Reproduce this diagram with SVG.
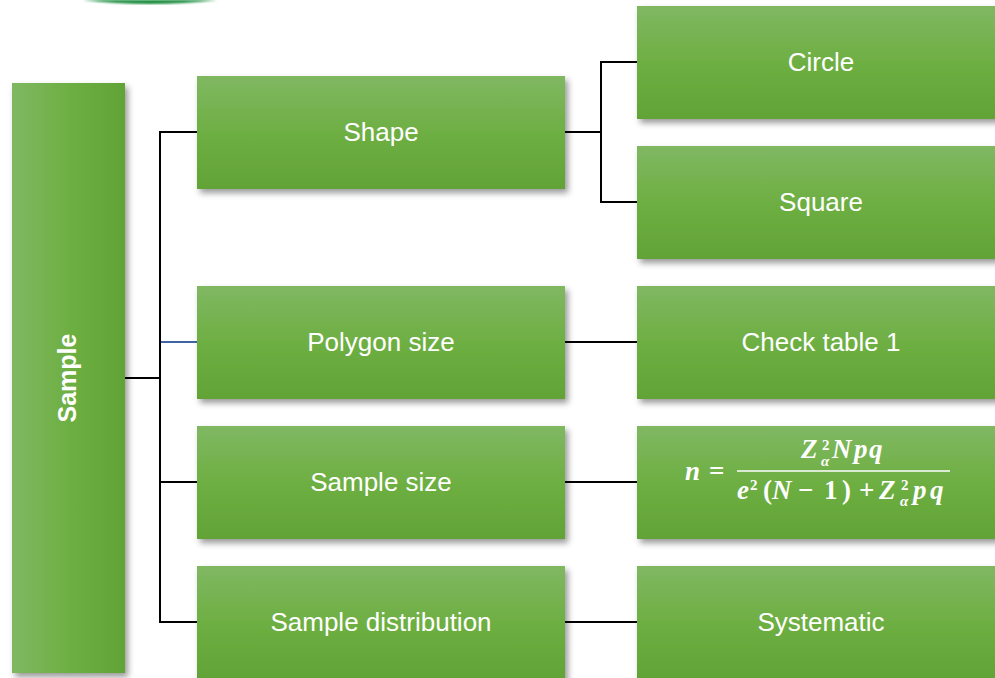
<svg xmlns="http://www.w3.org/2000/svg" width="995" height="678" viewBox="0 0 995 678">
  <defs>
    <linearGradient id="gv" x1="0" y1="0" x2="0" y2="1">
      <stop offset="0" stop-color="#80b862"/>
      <stop offset="0.5" stop-color="#6eaf43"/>
      <stop offset="1" stop-color="#62a336"/>
    </linearGradient>
    <linearGradient id="gh" x1="0" y1="0" x2="1" y2="0">
      <stop offset="0" stop-color="#80b862"/>
      <stop offset="0.5" stop-color="#6eaf43"/>
      <stop offset="1" stop-color="#62a336"/>
    </linearGradient>
    <filter id="sh" x="-10%" y="-10%" width="130%" height="130%">
      <feDropShadow dx="3" dy="4" stdDeviation="3" flood-color="#000" flood-opacity="0.4"/>
    </filter>
    <filter id="bl"><feGaussianBlur stdDeviation="1"/></filter>
  </defs>
  <style>
    .box { fill: url(#gv); filter: url(#sh); }
    .lbl { font-family: "Liberation Sans", Arial, sans-serif; font-size: 26px; fill: #fff; text-anchor: middle; }
    .con { stroke: #000; stroke-width: 2; fill: none; }
    .m { font-family: "Liberation Serif", "Times New Roman", serif; font-weight: bold; font-style: italic; font-size: 27px; fill: #fff; }
    .mu { font-family: "Liberation Serif", "Times New Roman", serif; font-weight: bold; font-size: 27px; fill: #fff; }
    .ms { font-family: "Liberation Serif", "Times New Roman", serif; font-weight: bold; font-size: 15px; fill: #fff; }
    .msi { font-family: "Liberation Serif", "Times New Roman", serif; font-weight: bold; font-style: italic; font-size: 15px; fill: #fff; }
  </style>

  <path d="M 83 0 Q 150 8 217 0 Z" fill="#168a3a" filter="url(#bl)"/>

  <g id="connectors">
    <polyline class="con" points="125,378 160,378"/>
    <polyline class="con" points="197,132 160,132 160,622 197,622"/>
    <line class="con" x1="160" y1="482" x2="197" y2="482"/>
    <line x1="161" y1="342" x2="197" y2="342" stroke="#3f64a8" stroke-width="2"/>
    <line class="con" x1="565" y1="132" x2="601" y2="132"/>
    <polyline class="con" points="637,62 601,62 601,202 637,202"/>
    <line class="con" x1="565" y1="342" x2="637" y2="342"/>
    <line class="con" x1="565" y1="482" x2="637" y2="482"/>
    <line class="con" x1="565" y1="622" x2="637" y2="622"/>
  </g>

  <g id="sample">
    <rect x="12" y="83" width="113" height="590" fill="url(#gh)" filter="url(#sh)"/>
    <text transform="translate(76,378) rotate(-90)" font-family="Liberation Sans, Arial, sans-serif" font-size="25" font-weight="bold" fill="#fff" text-anchor="middle">Sample</text>
  </g>

  <g id="shape">
    <rect class="box" x="197" y="76" width="368" height="113"/>
    <text class="lbl" x="381" y="141">Shape</text>
  </g>
  <g id="polygon-size">
    <rect class="box" x="197" y="286" width="368" height="113"/>
    <text class="lbl" x="381" y="351">Polygon size</text>
  </g>
  <g id="sample-size">
    <rect class="box" x="197" y="426" width="368" height="113"/>
    <text class="lbl" x="381" y="491">Sample size</text>
  </g>
  <g id="sample-distribution">
    <rect class="box" x="197" y="566" width="368" height="113"/>
    <text class="lbl" x="381" y="631">Sample distribution</text>
  </g>

  <g id="circle">
    <rect class="box" x="637" y="6" width="368" height="113"/>
    <text class="lbl" x="821" y="71">Circle</text>
  </g>
  <g id="square">
    <rect class="box" x="637" y="146" width="368" height="113"/>
    <text class="lbl" x="821" y="211">Square</text>
  </g>
  <g id="check-table">
    <rect class="box" x="637" y="286" width="368" height="113"/>
    <text class="lbl" x="821" y="351">Check table 1</text>
  </g>
  <g id="formula">
    <rect class="box" x="637" y="426" width="368" height="113"/>
    <text class="m" x="685" y="480">n</text>
    <text class="mu" x="709" y="480">=</text>
    <text class="m" x="801" y="458">Z</text>
    <text class="ms" x="822" y="450">2</text>
    <text class="msi" x="821" y="466">α</text>
    <text class="m" x="832" y="458">N</text>
    <text class="m" x="854" y="458">p</text>
    <text class="m" x="869" y="458">q</text>
    <line x1="737" y1="471" x2="950" y2="471" stroke="#fff" stroke-width="1.5"/>
    <text class="m" x="737" y="499">e</text>
    <text class="ms" x="750" y="490">2</text>
    <text class="mu" x="763" y="499">(</text>
    <text class="m" x="772" y="499">N</text>
    <text class="mu" x="798" y="499">−</text>
    <text class="mu" x="824" y="499">1</text>
    <text class="mu" x="842" y="499">)</text>
    <text class="mu" x="859" y="499">+</text>
    <text class="m" x="879" y="499">Z</text>
    <text class="ms" x="901" y="490">2</text>
    <text class="msi" x="900" y="506">α</text>
    <text class="m" x="913" y="499">p</text>
    <text class="m" x="930" y="499">q</text>
  </g>
  <g id="systematic">
    <rect class="box" x="637" y="566" width="368" height="113"/>
    <text class="lbl" x="821" y="631">Systematic</text>
  </g>
</svg>
